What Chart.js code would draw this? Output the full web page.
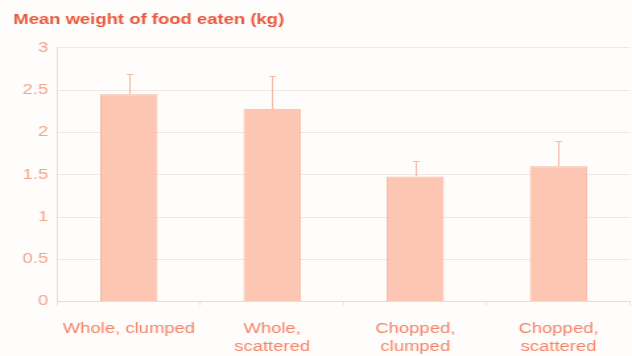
<!DOCTYPE html>
<html>
<head>
<meta charset="utf-8">
<script src="https://cdn.jsdelivr.net/npm/chart.js@4/dist/chart.umd.min.js"></script>
<style>
  html, body { margin: 0; padding: 0; background: #fffdfb; overflow: hidden; }
  /* la imagen original está estirada a lo ancho */
  #grafica { transform: scaleX(1.3194); transform-origin: 0 0; }
</style>
</head>
<body>
<canvas id="grafica" width="479" height="356"></canvas>
<script>
// DATOS
const categorias = [["Whole, clumped"], ["Whole,", "scattered"], ["Chopped,", "clumped"], ["Chopped,", "scattered"]];
const medias = [2.45, 2.28, 1.48, 1.6];
const errores = [0.24, 0.39, 0.18, 0.3];
const ticksY = [0, 0.5, 1, 1.5, 2, 2.5, 3];

// barras de error
const barrasError = {
  id: "barrasError",
  afterDatasetsDraw(chart) {
    const ctx = chart.ctx;
    const y = chart.scales.y;
    const meta = chart.getDatasetMeta(0);
    ctx.save();
    ctx.strokeStyle = "#f6b9a6";
    ctx.lineWidth = 1;
    meta.data.forEach((bar, i) => {
      const y0 = Math.round(y.getPixelForValue(medias[i]));
      const y1 = Math.round(y.getPixelForValue(medias[i] + errores[i]));
      const x = Math.round(bar.x) + 0.5;
      ctx.beginPath();
      ctx.moveTo(x, y0);
      ctx.lineTo(x, y1);
      ctx.moveTo(x - 2.5, y1 + 0.5);
      ctx.lineTo(x + 2.5, y1 + 0.5);
      ctx.stroke();
    });
    ctx.restore();
  }
};

let ctx = document.getElementById("grafica").getContext("2d");

new Chart(ctx, {
  type: "bar",
  data: {
    labels: categorias,
    datasets: [{
      data: medias,
      backgroundColor: "#fdc6b3",
      borderColor: "#f7b5a0",
      borderWidth: 1,
      categoryPercentage: 1,
      barPercentage: 0.4
    }]
  },
  options: {
    responsive: false,
    animation: false,
    layout: { padding: { left: 10, right: 1.5, top: 0, bottom: -14 } },
    plugins: {
      legend: { display: false },
      tooltip: { enabled: false },
      title: {
        display: true,
        text: "Mean weight of food eaten (kg)",
        align: "start",
        color: "#e9573b",
        font: { family: "Liberation Sans", size: 14, weight: "bold" },
        padding: { top: 12, bottom: 19 }
      }
    },
    scales: {
      x: {
        offset: true,
        grid: { offset: true, drawOnChartArea: false, tickLength: 4, color: "#ebe3dd" },
        border: { color: "#e6ddd6" },
        ticks: {
          color: "#f28468",
          font: { family: "Liberation Sans", size: 14, lineHeight: 1.3 },
          padding: 14,
          maxRotation: 0,
          autoSkip: false
        }
      },
      y: {
        min: 0,
        max: 3,
        afterBuildTicks: axis => { axis.ticks = ticksY.map(v => ({ value: v })); },
        grid: { color: "#efe7e1", drawTicks: false },
        border: { color: "#e6ddd6" },
        ticks: {
          color: "#f4a48c",
          font: { family: "Liberation Sans", size: 14 },
          padding: 7,
          autoSkip: false,
          callback: v => String(v)
        }
      }
    }
  },
  plugins: [barrasError]
});
</script>
</body>
</html>
